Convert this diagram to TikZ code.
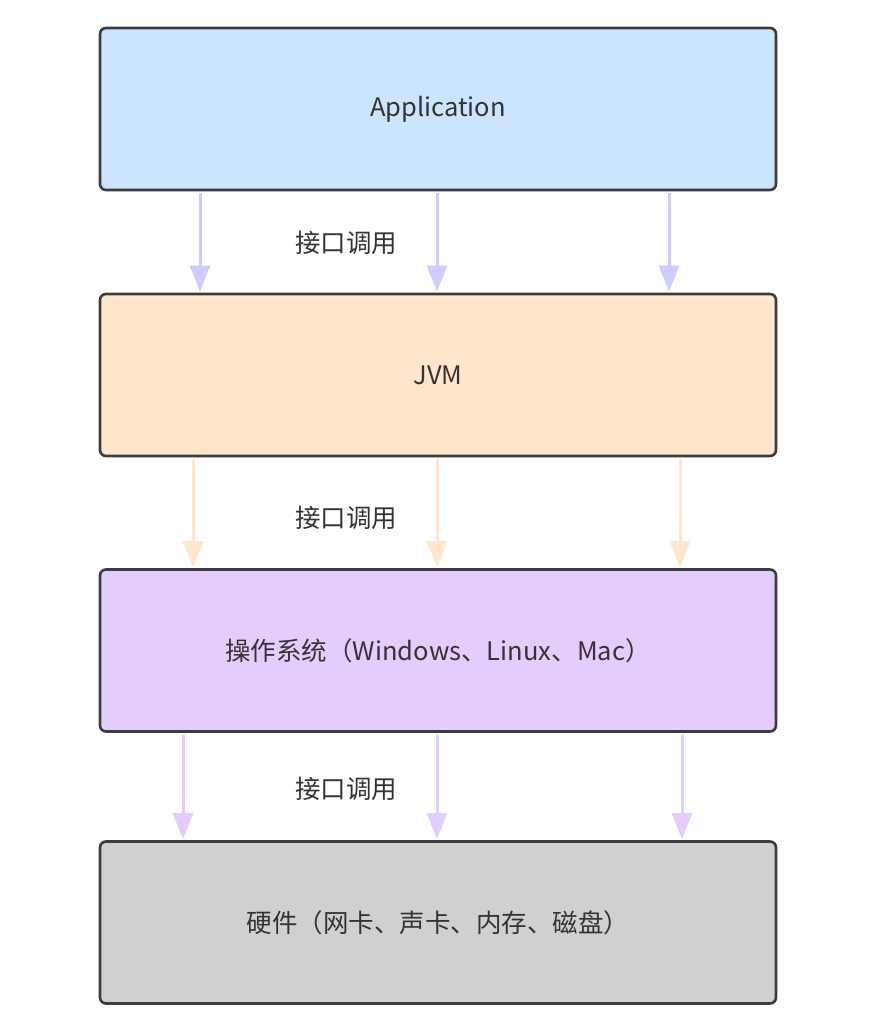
\documentclass[tikz,border=0pt]{standalone}
\usepackage{fontspec}
\setmainfont{Noto Sans CJK SC}
\usetikzlibrary{arrows.meta}
\definecolor{appblue}{HTML}{CCE5FF}
\definecolor{apparrow}{HTML}{CCCCFF}
\definecolor{jvmorange}{HTML}{FFE6CC}
\definecolor{ospurple}{HTML}{E5CCFF}
\definecolor{hwgray}{HTML}{D0D0D0}
\definecolor{edgegray}{HTML}{3C3C3C}
\definecolor{textgray}{HTML}{333333}
\tikzset{
  layerbox/.style={draw=edgegray, line width=2.6pt, rounded corners=6pt,
    minimum width=676pt, minimum height=162pt, inner sep=0pt,
    text=textgray, font=\fontsize{25.5}{30}\selectfont},
  callarrow/.style={line width=3pt, -{Triangle[width=20pt,length=26pt]}},
  calllabel/.style={text=textgray, font=\fontsize{25.5}{30}\selectfont}
}

\begin{document}
\begin{tikzpicture}[x=1pt,y=-1pt]
\useasboundingbox (0,0) rectangle (868,1028);
\node[layerbox, fill=appblue] (app) at (438,109) {Application};
\node[layerbox, fill=jvmorange] (jvm) at (438,375) {JVM};
\node[layerbox, fill=ospurple] (os) at (438,650.5) {操作系统（Windows、Linux、Mac）};
\node[layerbox, fill=hwgray] (hw) at (438,922.5) {硬件（网卡、声卡、内存、磁盘）};
% arrows between layers
\foreach \top/\bottom/\col/\xa/\xb/\xc/\ly in {%
  app/jvm/apparrow/200/437/669/243,
  jvm/os/jvmorange/193/437/680/518,
  os/hw/ospurple/183/437/682/789}{
  \foreach \x in {\xa,\xb,\xc}
    \draw[callarrow, draw=\col, fill=\col]
      ([yshift=-2pt]\top.south -| \x,0) -- ([yshift=1pt]\bottom.north -| \x,0);
  \node[calllabel] (lbl-\top) at (346,\ly) {接口调用};
}
\end{tikzpicture}
\end{document}
